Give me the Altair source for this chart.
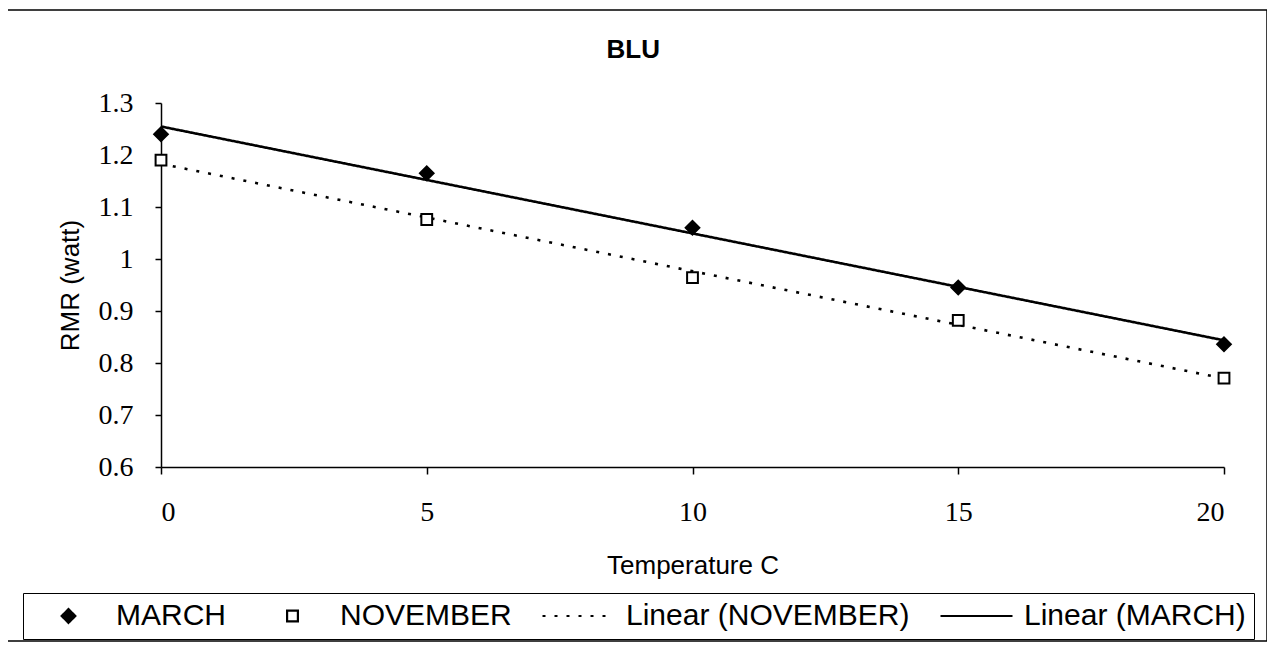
import altair as alt
import pandas as pd

# ---- data ----
temperature = [0, 5, 10, 15, 20]
march = [1.240, 1.165, 1.060, 0.945, 0.836]
november = [1.190, 1.076, 0.964, 0.882, 0.771]
months = ["MARCH", "NOVEMBER"]
series_order = ["MARCH", "NOVEMBER", "Linear (NOVEMBER)", "Linear (MARCH)"]
x_ticks = [0, 5, 10, 15, 20]
y_ticks = [0.6, 0.7, 0.8, 0.9, 1.0, 1.1, 1.2, 1.3]

rows = []
for m, vals in zip(months, [march, november]):
    for t, v in zip(temperature, vals):
        rows.append({"temperature": t, "rmr": v, "month": m, "series": m})
df = pd.DataFrame(rows)

# symbol shapes (unit box paths), fills and dashes per legend entry
shape_range = [
    "M0,-0.19L0.19,0L0,0.19L-0.19,0Z",
    "M-0.15,-0.15L0.15,-0.15L0.15,0.15L-0.15,0.15Z",
    "M-1,0L1,0",
    "M-1,0L1,0",
]
fill_range = ["black", "white", "transparent", "transparent"]
stroke_range = ["black", "black", "black", "black"]
dash_range = [[1, 0], [1, 0], [3, 9], [1, 0]]

SANS = "Liberation Sans"
SERIF = "Liberation Serif"

legend = alt.Legend(
    orient="none", legendX=-138, legendY=490, direction="horizontal",
    title=None, labelFont=SANS, labelFontSize=30, labelColor="black", labelLimit=500,
    symbolSize=5184, symbolStrokeColor="black", symbolStrokeWidth=2.2,
    strokeColor="black", fillColor="white", padding=8,
    columnPadding=29, labelOffset=10, clipHeight=30,
)

x_enc = alt.X(
    "temperature:Q",
    scale=alt.Scale(domain=[0, 20], nice=False, zero=False),
    axis=alt.Axis(values=x_ticks, title="Temperature C", tickSize=7,
                  labelPadding=24, titlePadding=26),
)
y_enc = alt.Y(
    "rmr:Q",
    scale=alt.Scale(domain=[0.6, 1.3], nice=False, zero=False),
    axis=alt.Axis(values=y_ticks, format="~g", title="RMR (watt)", tickSize=6,
                  labelPadding=22, titlePadding=15),
)

border = alt.Chart(alt.Data(values=[{"k": 1}])).mark_rect(
    fill="transparent", stroke="black", strokeWidth=1.5
).encode(x=alt.value(-154), x2=alt.value(1106), y=alt.value(-93), y2=alt.value(538))

lines = alt.Chart(df).transform_regression(
    "temperature", "rmr", groupby=["month"]
).transform_calculate(
    series='"Linear (" + datum.month + ")"'
).mark_line(color="black", strokeWidth=2.6).encode(
    x=x_enc, y=y_enc,
    strokeDash=alt.StrokeDash("series:N", scale=alt.Scale(domain=series_order, range=dash_range), legend=legend),
    detail="month:N",
)

points = alt.Chart(df).mark_point(
    filled=True, size=5184, strokeWidth=2, opacity=1
).encode(
    x=x_enc, y=y_enc,
    shape=alt.Shape("series:N", scale=alt.Scale(domain=series_order, range=shape_range), legend=legend),
    fill=alt.Fill("series:N", scale=alt.Scale(domain=series_order, range=fill_range), legend=legend),
    stroke=alt.Stroke("series:N", scale=alt.Scale(domain=series_order, range=stroke_range), legend=legend),
)

chart = alt.layer(border, lines, points).properties(
    width=1063, height=364,
    autosize=alt.AutoSizeParams(type="none"),
    padding={"left": 153, "top": 95, "right": 43, "bottom": 175},
    title=alt.TitleParams(
        "BLU", anchor="start", align="center", dx=627, dy=67,
        font=SANS, fontSize=26, fontWeight="bold", color="black",
        baseline="middle", offset=0,
    ),
).configure_view(stroke="transparent").configure_axis(
    grid=False, domainColor="black", domainWidth=1.5, tickColor="black", tickWidth=1.5,
    labelFont=SERIF, labelFontSize=28, labelColor="black",
    titleFont=SANS, titleFontSize=26, titleFontWeight="normal", titleColor="black",
)

chart.save("out.html", embed_options={"renderer": "svg", "actions": False})
